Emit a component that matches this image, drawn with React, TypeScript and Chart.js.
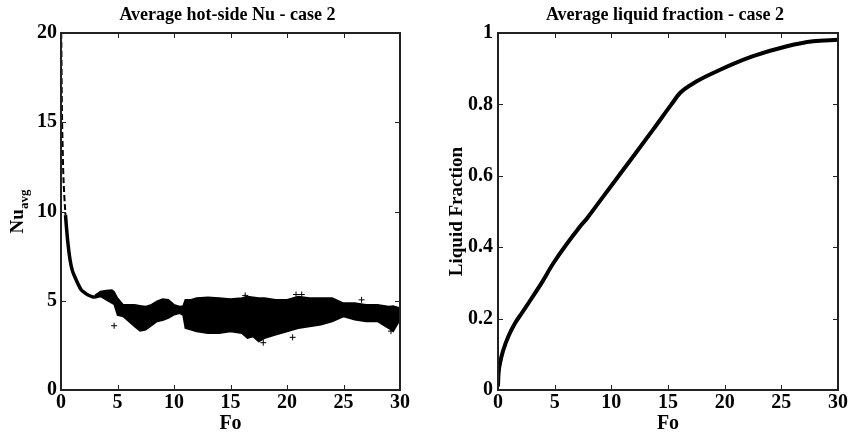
import React, { useEffect, useRef } from "react";
import { Chart, registerables } from "chart.js";
Chart.register(...registerables);

const FONT = "'Liberation Serif', 'Times New Roman', serif";

// Left panel: average hot-side Nusselt number
const foDecay = [0.02, 0.03, 0.06, 0.1, 0.15, 0.2, 0.3, 0.4, 0.5, 0.6, 0.8, 1.0, 1.25, 1.5, 1.8, 2.1, 2.4, 2.8, 3.0];
const nuDecay = [20.0, 19.5, 17.0, 15.0, 13.5, 12.2, 10.8, 9.8, 9.0, 8.3, 7.3, 6.7, 6.3, 5.95, 5.6, 5.45, 5.32, 5.22, 5.2];

const foBand = [3.0, 3.5, 4.0, 4.5, 4.7, 5.0, 5.5, 6.0, 6.5, 7.0, 7.5, 8.0, 8.5, 9.0, 9.5, 10.0, 10.5, 10.8, 11.0, 11.5, 12, 13, 14, 15, 16, 16.5, 17, 17.5, 18, 19, 20, 21, 22, 23, 24, 25, 26, 27, 28, 29, 29.4, 30];
const nuUpper = [5.3, 5.52, 5.58, 5.6, 5.5, 5.15, 4.78, 4.78, 4.78, 4.72, 4.68, 4.78, 4.97, 5.1, 5.06, 4.78, 4.68, 4.7, 5.06, 5.06, 5.15, 5.2, 5.15, 5.1, 5.15, 5.24, 5.2, 5.15, 5.15, 5.06, 5.06, 5.24, 5.15, 5.15, 5.15, 4.87, 4.87, 4.78, 4.78, 4.68, 4.7, 4.59];
const nuLower = [5.15, 5.24, 5.05, 4.87, 4.8, 4.2, 4.12, 3.84, 3.56, 3.31, 3.37, 3.6, 3.84, 3.9, 4.03, 4.21, 4.3, 4.2, 3.46, 3.37, 3.28, 3.18, 3.18, 3.28, 3.18, 2.9, 2.99, 2.71, 2.9, 3.09, 3.28, 3.46, 3.56, 3.65, 3.84, 4.12, 3.93, 3.84, 3.84, 3.46, 3.28, 3.93];

const foOutlier = [4.7, 16.3, 17.9, 20.5, 20.8, 21.3, 26.6, 29.2];
const nuOutlier = [3.6, 5.3, 2.65, 2.95, 5.35, 5.35, 5.05, 3.3];

// Right panel: average liquid fraction
const foLF = [0, 0.03, 0.18, 0.47, 0.91, 1.5, 2.09, 2.97, 3.85, 4.88, 7.24, 7.83, 9.15, 10.77, 13.7, 15.3, 16.06, 17.5, 19.6, 22.5, 25.5, 27.8, 30];
const lfVal = [0.01, 0.037, 0.075, 0.112, 0.15, 0.187, 0.215, 0.257, 0.3, 0.355, 0.458, 0.48, 0.536, 0.605, 0.73, 0.8, 0.832, 0.864, 0.897, 0.935, 0.963, 0.977, 0.981];

const xTicks = [0, 5, 10, 15, 20, 25, 30];

const pts = (xs: number[], ys: number[]) => xs.map((x, i) => ({ x, y: ys[i] }));

type Deco = { title: string; xLabel: string; yLabel: string; ySub?: string; yLabelX: number };

function decoPlugin(d: Deco) {
  return {
    id: "deco",
    afterDraw(chart: any) {
      const { ctx, chartArea: a, scales } = chart;
      const xs = scales.x;
      const ys = scales.y;
      ctx.save();
      ctx.strokeStyle = "#222";
      ctx.lineWidth = 1;
      const tl = 5;
      ctx.beginPath();
      xs.ticks.forEach((t: any) => {
        const px = Math.round(xs.getPixelForValue(t.value)) + 0.5;
        ctx.moveTo(px, a.bottom);
        ctx.lineTo(px, a.bottom - tl);
        ctx.moveTo(px, a.top);
        ctx.lineTo(px, a.top + tl);
      });
      ys.ticks.forEach((t: any) => {
        const py = Math.round(ys.getPixelForValue(t.value)) + 0.5;
        ctx.moveTo(a.left, py);
        ctx.lineTo(a.left + tl, py);
        ctx.moveTo(a.right, py);
        ctx.lineTo(a.right - tl, py);
      });
      ctx.stroke();
      ctx.lineWidth = 2;
      ctx.strokeRect(a.left, a.top, a.right - a.left, a.bottom - a.top);

      ctx.fillStyle = "#000";
      ctx.textBaseline = "alphabetic";
      ctx.textAlign = "center";
      ctx.font = `bold 18px ${FONT}`;
      ctx.fillText(d.title, (a.left + a.right) / 2 - 3, 20);
      ctx.font = `bold 20px ${FONT}`;
      ctx.fillText(d.xLabel, (a.left + a.right) / 2, a.bottom + 39);

      // y label, rotated
      const cy = (a.top + a.bottom) / 2;
      ctx.translate(d.yLabelX, cy);
      ctx.rotate(-Math.PI / 2);
      ctx.textAlign = "left";
      const mainFont = `bold 19px ${FONT}`;
      const subFont = `bold 13px ${FONT}`;
      ctx.font = mainFont;
      const w1 = ctx.measureText(d.yLabel).width;
      let w2 = 0;
      if (d.ySub) {
        ctx.font = subFont;
        w2 = ctx.measureText(d.ySub).width;
      }
      const start = -(w1 + w2) / 2;
      ctx.font = mainFont;
      ctx.fillText(d.yLabel, start, 0);
      if (d.ySub) {
        ctx.font = subFont;
        ctx.fillText(d.ySub, start + w1, 5);
      }
      ctx.restore();
    },
  };
}

function scaleOpts(min: number, max: number, step: number, fixed: number, isX: boolean, pad: number) {
  return {
    type: "linear" as const,
    min,
    max,
    afterBuildTicks: isX
      ? (s: any) => {
          s.ticks = xTicks.map((v) => ({ value: v }));
        }
      : undefined,
    ticks: {
      stepSize: step,
      autoSkip: false,
      maxRotation: 0,
      color: "#000",
      padding: pad,
      font: { family: FONT, weight: "bold" as const, size: 20 },
      callback: (v: any) => String(Number(Number(v).toFixed(2))),
    },
    grid: { display: false, drawTicks: false, tickLength: 0 },
    border: { display: false },
    afterFit: (s: any) => {
      if (isX) s.height = fixed;
      else s.width = fixed;
    },
  };
}

function NuChart() {
  const ref = useRef<HTMLCanvasElement>(null);
  useEffect(() => {
    const chart = new Chart(ref.current!, {
      type: "line",
      data: {
        datasets: [
          {
            data: pts(foBand, nuUpper),
            borderColor: "#000",
            backgroundColor: "#000",
            borderWidth: 1.5,
            pointRadius: 0,
            fill: "+1",
          } as any,
          {
            data: pts(foBand, nuLower),
            borderColor: "#000",
            borderWidth: 1.5,
            pointRadius: 0,
            fill: false,
          },
          {
            data: pts(foDecay, nuDecay),
            borderColor: "#000",
            borderWidth: 3,
            pointRadius: 0,
            fill: false,
            cubicInterpolationMode: "monotone",
            segment: {
              borderDash: (c: any) => (c.p0.parsed.y > 10 ? [6, 3] : undefined),
              borderWidth: (c: any) => (c.p0.parsed.y > 10 ? 2 : 3.5),
            },
          } as any,
          {
            type: "scatter",
            data: pts(foOutlier, nuOutlier),
            pointStyle: "cross",
            pointRadius: 3,
            borderColor: "#000",
            borderWidth: 1,
          } as any,
        ],
      },
      options: {
        responsive: false,
        animation: false,
        layout: { padding: { top: 33, right: 24, left: 0, bottom: 0 } },
        plugins: { legend: { display: false }, tooltip: { enabled: false } },
        scales: {
          x: scaleOpts(0, 30, 5, 45, true, 1) as any,
          y: scaleOpts(0, 20, 5, 61, false, 4) as any,
        },
      },
      plugins: [decoPlugin({ title: "Average hot-side Nu - case 2", xLabel: "Fo", yLabel: "Nu", ySub: "avg", yLabelX: 23 })],
    });
    return () => chart.destroy();
  }, []);
  return <canvas ref={ref} width={424} height={435} style={{ position: "absolute", left: 0, top: 0 }} />;
}

function LFChart() {
  const ref = useRef<HTMLCanvasElement>(null);
  useEffect(() => {
    const chart = new Chart(ref.current!, {
      type: "line",
      data: {
        datasets: [
          {
            data: pts(foLF, lfVal),
            borderColor: "#000",
            borderWidth: 4,
            pointRadius: 0,
            fill: false,
            cubicInterpolationMode: "monotone",
          } as any,
        ],
      },
      options: {
        responsive: false,
        animation: false,
        layout: { padding: { top: 33, right: 11, left: 0, bottom: 0 } },
        plugins: { legend: { display: false }, tooltip: { enabled: false } },
        scales: {
          x: scaleOpts(0, 30, 5, 45, true, 1) as any,
          y: scaleOpts(0, 1, 0.2, 74, false, 5) as any,
        },
      },
      plugins: [decoPlugin({ title: "Average liquid fraction - case 2", xLabel: "Fo", yLabel: "Liquid Fraction", yLabelX: 38 })],
    });
    return () => chart.destroy();
  }, []);
  return <canvas ref={ref} width={425} height={435} style={{ position: "absolute", left: 424, top: 0 }} />;
}

export default function App() {
  return (
    <div style={{ position: "fixed", left: 0, top: 0, width: 849, height: 435, background: "#fff", overflow: "hidden" }}>
      <NuChart />
      <LFChart />
    </div>
  );
}
